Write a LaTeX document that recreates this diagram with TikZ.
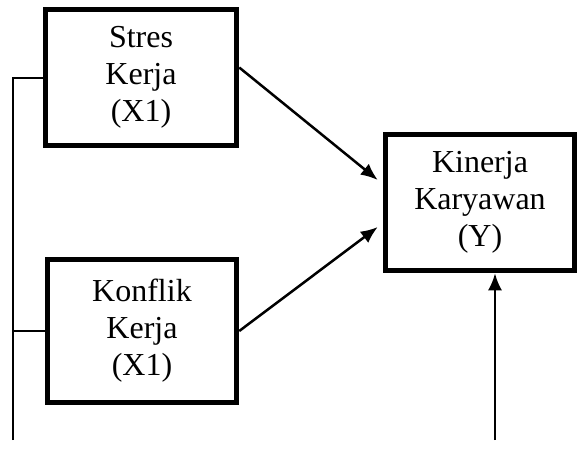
\documentclass[tikz,border=0pt]{standalone}
\usepackage{fontspec}
\setmainfont{Liberation Serif}
\usetikzlibrary{arrows.meta}
\begin{document}
\begin{tikzpicture}[x=1pt,y=-1pt,
  box/.style={draw,line width=5.5pt,inner sep=0pt,align=center,font=\fontsize{32}{37}\selectfont},
  arr/.style={line width=2.5pt,-{Latex[length=17pt,width=14pt]}}]
\useasboundingbox (0,0) rectangle (579,450);
\node[box,minimum width=191pt,minimum height=136pt] (stres) at (141,77.5) {Stres\\Kerja\\(X1)};
\node[box,minimum width=189pt,minimum height=143pt] (konflik) at (142,331) {Konflik\\Kerja\\(X1)};
\node[box,minimum width=189pt,minimum height=136pt] (kinerja) at (480,202.5) {Kinerja\\Karyawan\\(Y)};
\coordinate (lbot) at (13,440);
\coordinate (bot) at (495,440);
\draw[line width=2pt] (lbot) |- (stres.west);
\draw[line width=2pt] (lbot |- konflik.west) -- (konflik.west);
\draw[arr] ([yshift=10pt]stres.east) -- ([xshift=-5pt,yshift=22.5pt]kinerja.west);
\draw[arr] (konflik.east) -- ([xshift=-5pt,yshift=-24.5pt]kinerja.west);
\draw[arr] (bot) -- ([xshift=15pt]kinerja.south);
\end{tikzpicture}
\end{document}
